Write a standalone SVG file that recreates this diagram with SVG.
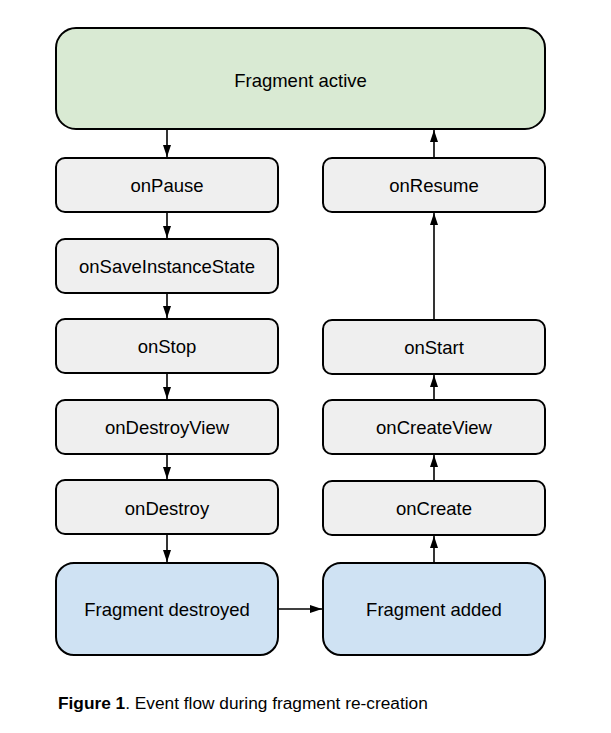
<svg xmlns="http://www.w3.org/2000/svg" width="611" height="733" viewBox="0 0 611 733">
<style>
rect{stroke:#000;stroke-width:2}
.g{fill:#efefef}
.a{fill:#d9ead3}
.b{fill:#cfe2f3}
text{font-family:"Liberation Sans",Arial,sans-serif;font-size:18.5px;fill:#000;text-anchor:middle}
.c line{stroke:#000;stroke-width:1.6;marker-end:url(#ah)}
</style>
<defs>
<marker id="ah" viewBox="0 0 12 8" refX="12" refY="4" markerWidth="12" markerHeight="8" orient="auto" markerUnits="userSpaceOnUse"><path d="M0,0L12,4L0,8z" fill="#000"/></marker>
</defs>
<rect width="611" height="733" fill="#fff" style="stroke:none"/>
<g class="c">
<line x1="167" y1="129" x2="167" y2="157"/>
<line x1="167" y1="212" x2="167" y2="238"/>
<line x1="167" y1="293" x2="167" y2="318"/>
<line x1="167" y1="373" x2="167" y2="399"/>
<line x1="167" y1="454" x2="167" y2="479"/>
<line x1="167" y1="534" x2="167" y2="562"/>
<line x1="278" y1="609" x2="322" y2="609"/>
<line x1="434" y1="563" x2="434" y2="536"/>
<line x1="434" y1="481" x2="434" y2="455"/>
<line x1="434" y1="400" x2="434" y2="375"/>
<line x1="434" y1="320" x2="434" y2="213"/>
<line x1="434" y1="158" x2="434" y2="130"/>
</g>
<g id="active"><rect class="a" x="56" y="28" width="489" height="101" rx="20"/><text x="300.5" y="86.5">Fragment active</text></g>
<g id="onPause"><rect class="g" x="56" y="158" width="222" height="54" rx="9"/><text x="167" y="192">onPause</text></g>
<g id="onSave"><rect class="g" x="56" y="239" width="222" height="54" rx="9"/><text x="167" y="273">onSaveInstanceState</text></g>
<g id="onStop"><rect class="g" x="56" y="319" width="222" height="54" rx="9"/><text x="167" y="353">onStop</text></g>
<g id="onDestroyView"><rect class="g" x="56" y="400" width="222" height="54" rx="9"/><text x="167" y="434">onDestroyView</text></g>
<g id="onDestroy"><rect class="g" x="56" y="480" width="222" height="54" rx="9"/><text x="167" y="515">onDestroy</text></g>
<g id="destroyed"><rect class="b" x="56" y="563" width="222" height="92" rx="18"/><text x="167" y="616">Fragment destroyed</text></g>
<g id="onResume"><rect class="g" x="323" y="158" width="222" height="54" rx="9"/><text x="434" y="192">onResume</text></g>
<g id="onStart"><rect class="g" x="323" y="320" width="222" height="54" rx="9"/><text x="434" y="354">onStart</text></g>
<g id="onCreateView"><rect class="g" x="323" y="400" width="222" height="54" rx="9"/><text x="434" y="434">onCreateView</text></g>
<g id="onCreate"><rect class="g" x="323" y="481" width="222" height="54" rx="9"/><text x="434" y="515">onCreate</text></g>
<g id="added"><rect class="b" x="323" y="563" width="222" height="92" rx="18"/><text x="434" y="616">Fragment added</text></g>
<text x="58" y="709" style="text-anchor:start;font-size:17.3px"><tspan font-weight="bold">Figure 1</tspan>. Event flow during fragment re-creation</text>
</svg>
